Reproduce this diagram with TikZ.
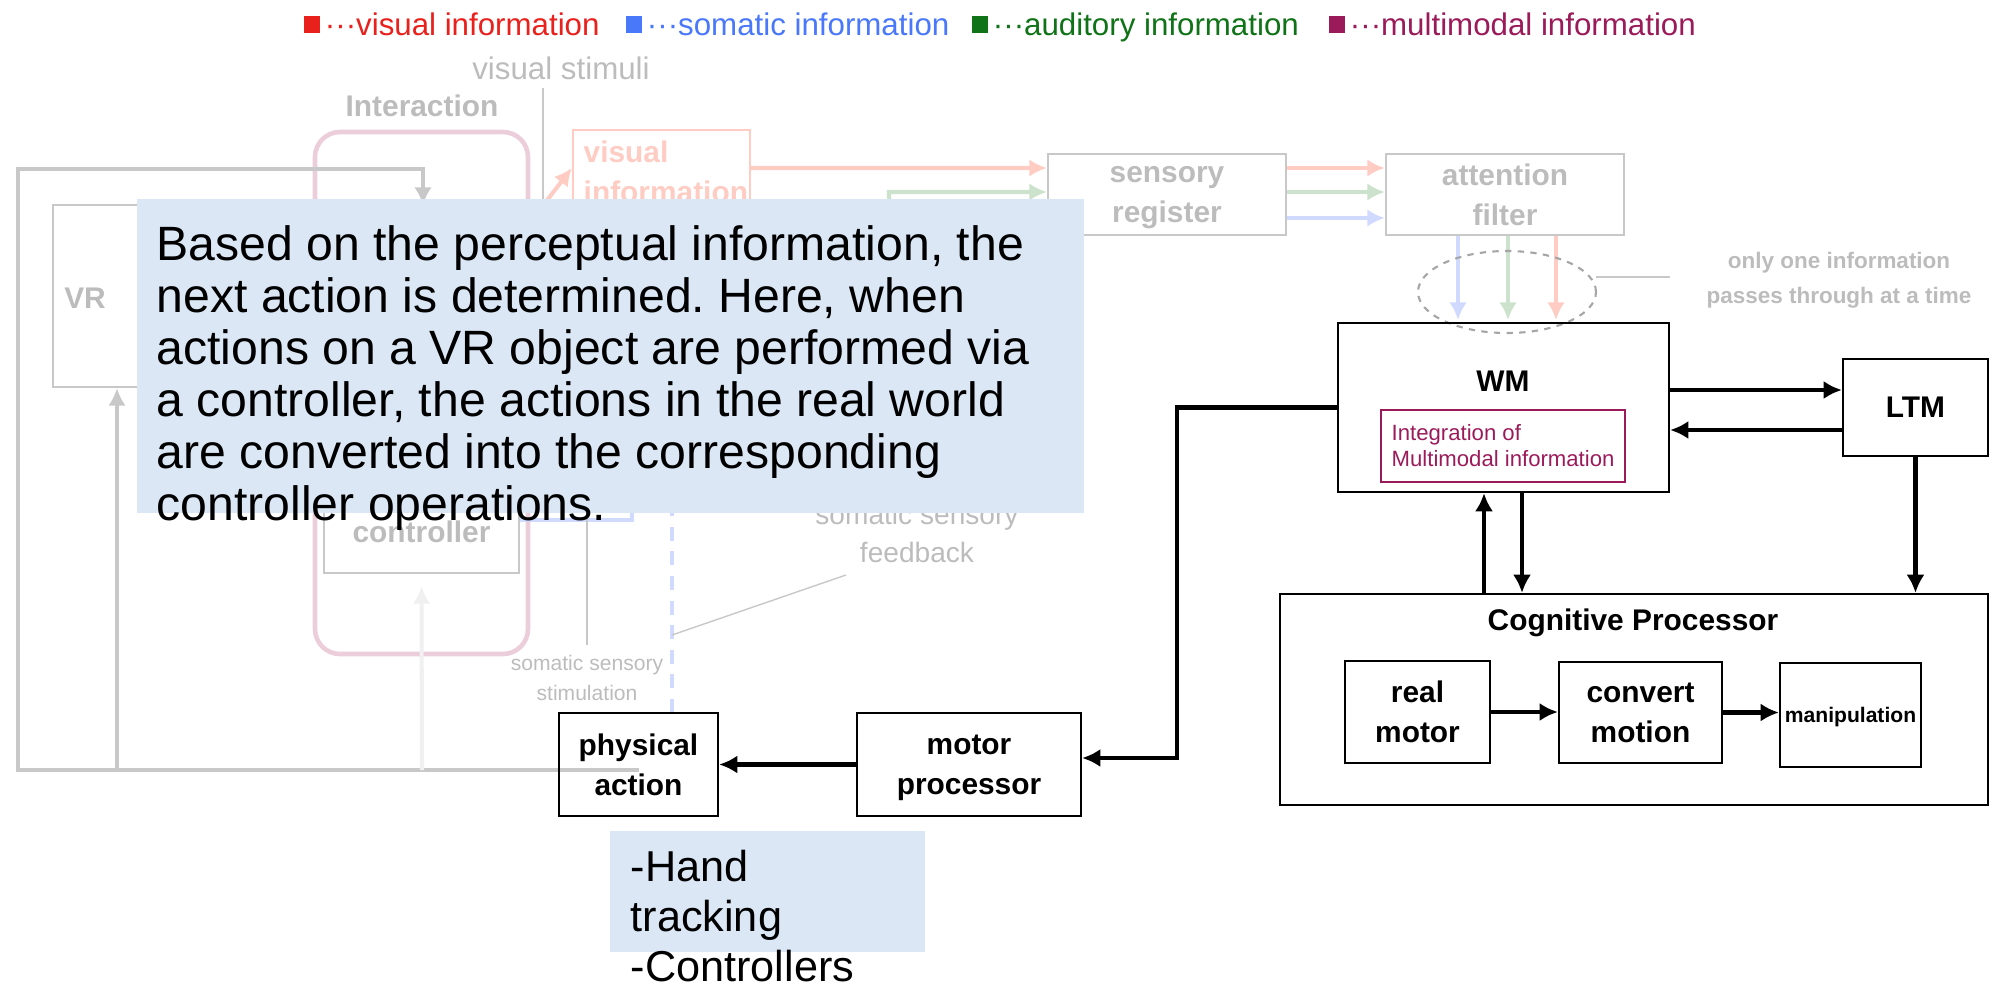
\documentclass[tikz,border=0pt]{standalone}
\usepackage{fontspec}
\setmainfont{Liberation Sans}
\usetikzlibrary{arrows.meta}
\frenchspacing

\definecolor{visred}{RGB}{233,33,28}
\definecolor{somblue}{RGB}{74,120,250}
\definecolor{audgreen}{RGB}{16,115,24}
\definecolor{multipurple}{RGB}{155,27,90}
\definecolor{fadegrey}{RGB}{200,200,200}
\definecolor{fadetext}{RGB}{188,188,188}
\definecolor{fadered}{RGB}{255,204,196}
\definecolor{fadegreen}{RGB}{204,226,204}
\definecolor{fadeblue}{RGB}{208,218,255}
\definecolor{fadepink}{RGB}{236,205,218}
\definecolor{notefill}{RGB}{219,231,245}

\newcommand{\boxfont}{\fontsize{8.5}{11.4}\selectfont\bfseries}
\newcommand{\legendfont}{\fontsize{8.9}{10.8}\selectfont}
\newcommand{\calloutfont}{\fontsize{13.7}{14.8}\selectfont}
\newcommand{\devfont}{\fontsize{12.3}{14.3}\selectfont}
\newcommand{\minifont}{\fontsize{6.3}{7.4}\selectfont}

\begin{document}
\begin{tikzpicture}[
	box/.style={draw, line width=0.65pt, inner sep=0pt, align=center, font=\boxfont, text depth=0pt},
	ghost/.style={box, draw=fadegrey, text=fadetext},
	link/.style={-{Latex[length=5.2pt, width=5.2pt]}, line width=1.15pt},
	ghostlink/.style={-{Latex[length=5pt, width=5pt]}, line width=1.15pt},
	legsq/.style={minimum width=0.16cm, minimum height=0.17cm, inner sep=0pt},
	legtext/.style={anchor=west, inner sep=1pt, font=\legendfont, text height=1.6ex, text depth=0.4ex},
	note/.style={fill=notefill, inner sep=0pt}]
	\useasboundingbox (0, 0) rectangle (20.11, -9.84);
	% Legend:
	\node[legsq, fill=visred] (sqvis) at (3.12, -0.24){};
	\node[legtext, text=visred] (legvis) at (sqvis.east){···visual information};
	\node[legsq, fill=somblue] (sqsom) at (6.34, -0.24){};
	\node[legtext, text=somblue] (legsom) at (sqsom.east){···somatic information};
	\node[legsq, fill=audgreen] (sqaud) at (9.8, -0.24){};
	\node[legtext, text=audgreen] (legaud) at (sqaud.east){···auditory information};
	\node[legsq, fill=multipurple] (sqmul) at (13.37, -0.24){};
	\node[legtext, text=multipurple] (legmul) at (sqmul.east){···multimodal information};

	% Faded part of the model:
	\draw[fadepink, line width=1.3pt, rounded corners=0.25cm] (3.15, -1.32) rectangle (5.28, -6.54);
	\node[text=fadetext, font=\boxfont] (interlabel) at (4.22, -1.06){Interaction};
	\node[text=fadetext, font=\legendfont] (stimlabel) at (5.61, -0.68){visual stimuli};
	\draw[fadegrey, line width=0.4pt] (5.43, -0.88) -- (5.43, -2.6);
	\node[ghost, minimum width=2.47cm, minimum height=1.82cm] (vrbox) at (1.765, -2.96){};
	\node[text=fadetext, font=\boxfont] (vrlabel) at (0.85, -2.98){VR};
	\node[ghost, minimum width=1.95cm, minimum height=0.83cm] (ctrlbox) at (4.215, -5.315){controller};
	\node[draw=fadered, line width=0.65pt, minimum width=1.77cm, minimum height=0.76cm] (visinfo) at (6.615, -1.68){};
	\node[anchor=north west, align=left, inner sep=0pt, text=fadered, font=\boxfont] (visinfolabel) at (5.83, -1.4){visual\\information};
	\node[ghost, minimum width=2.38cm, minimum height=0.81cm] (sensreg) at (11.67, -1.945){sensory\\register};
	\node[ghost, minimum width=2.38cm, minimum height=0.81cm] (attfilter) at (15.05, -1.945){attention\\filter};
	\draw[ghostlink, fadered] (5.38, -2.12) -- (visinfo.west);
	\draw[ghostlink, fadered] (visinfo.east) -- ([yshift=0.265cm]sensreg.west);
	\draw[ghostlink, fadegreen] (8.89, -2.3) -- (8.89, -1.92) -- ([yshift=0.025cm]sensreg.west);
	\draw[ghostlink, fadered] ([yshift=0.265cm]sensreg.east) -- ([yshift=0.265cm]attfilter.west);
	\draw[ghostlink, fadegreen] ([yshift=0.025cm]sensreg.east) -- ([yshift=0.025cm]attfilter.west);
	\draw[ghostlink, fadeblue] ([yshift=-0.235cm]sensreg.east) -- ([yshift=-0.235cm]attfilter.west);
	\draw[ghostlink, fadeblue] ([xshift=-0.47cm]attfilter.south) -- ([xshift=-0.47cm, yshift=0.03cm]attfilter.south |- 0, -3.23);
	\draw[ghostlink, fadegreen] ([xshift=0.03cm]attfilter.south) -- ([xshift=0.03cm, yshift=0.03cm]attfilter.south |- 0, -3.23);
	\draw[ghostlink, fadered] ([xshift=0.51cm]attfilter.south) -- ([xshift=0.51cm, yshift=0.03cm]attfilter.south |- 0, -3.23);
	\draw[black!35, line width=0.6pt, dash pattern={on 1.8pt off 1.8pt}] (15.07, -2.92) ellipse [x radius=0.89, y radius=0.41];
	\draw[fadegrey, line width=0.4pt] (15.96, -2.77) -- (16.7, -2.77);
	\node[align=center, text=fadetext, font=\fontsize{6.4}{10}\selectfont\bfseries] (onlyone) at (18.39, -2.8){only one information\\passes through at a time};
	% grey loop back to the VR side
	\draw[ghostlink, fadegrey] (6.385, -7.7) -| (0.18, -1.69) -| (4.23, -2.05);
	\draw[ghostlink, fadegrey] (1.17, -7.7) -- (vrbox.south -| 1.17, 0);
	\draw[ghostlink, black!6] (4.22, -7.7) -- ([yshift=-0.12cm]ctrlbox.south);
	\draw[fadeblue, line width=1.15pt] ([yshift=0.115cm]ctrlbox.east) -- (6.32, -5.2) -- (6.32, -4.9);
	\draw[fadeblue, line width=1.15pt, dash pattern={on 4pt off 3pt}] (6.72, -7.13) -- (6.72, -4.9);
	\node[align=center, text=fadetext, font=\fontsize{8}{10.8}\selectfont] (fbklabel) at (9.17, -5.33){somatic sensory\\feedback};
	\draw[fadegrey, line width=0.4pt] (8.46, -5.75) -- (6.72, -6.35);
	\node[align=center, text=fadetext, font=\fontsize{6}{8.4}\selectfont] (stimulation) at (5.87, -6.78){somatic sensory\\stimulation};
	\draw[fadegrey, line width=0.4pt] (5.87, -4.0) -- (5.87, -6.45);

	% Explanation on top:
	\node[note, minimum width=9.47cm, minimum height=3.14cm] (callout) at (6.105, -3.56){};
	\node[anchor=north west, align=left, inner sep=0pt, font=\calloutfont] (callouttext) at (1.56, -2.25){Based on the perceptual information, the\\next action is determined. Here, when\\actions on a VR object are performed via\\a controller, the actions in the real world\\are converted into the corresponding\\controller operations.};

	% Paths, nodes and wires:
	\node[box, minimum width=3.31cm, minimum height=1.69cm] (wm) at (15.035, -4.075){};
	\node[font=\boxfont] (wmlabel) at (15.03, -3.81){WM};
	\node[draw=multipurple, line width=0.65pt, minimum width=2.44cm, minimum height=0.72cm] (integ) at (15.03, -4.46){};
	\node[anchor=west, align=left, inner sep=0pt, text=multipurple, font=\minifont] (integlabel) at (13.91, -4.46){Integration of\\Multimodal information};
	\node[box, minimum width=1.45cm, minimum height=0.97cm] (ltm) at (19.155, -4.075){LTM};
	\node[box, minimum width=7.08cm, minimum height=2.11cm] (cog) at (16.34, -6.995){};
	\node[font=\boxfont] (coglabel) at (16.33, -6.23){Cognitive Processor};
	\node[box, minimum width=1.45cm, minimum height=1.02cm] (realmotor) at (14.175, -7.12){real\\motor};
	\node[box, minimum width=1.63cm, minimum height=1.01cm] (convert) at (16.405, -7.125){convert\\motion};
	\node[box, minimum width=1.41cm, minimum height=1.04cm, font=\fontsize{6}{8}\selectfont\bfseries] (manip) at (18.505, -7.15){manipulation};
	\node[box, minimum width=1.59cm, minimum height=1.03cm] (physact) at (6.385, -7.645){physical\\action};
	\node[box, minimum width=2.24cm, minimum height=1.03cm] (motorproc) at (9.69, -7.645){motor\\processor};
	\draw[link] ([yshift=0.175cm]wm.east) -- ([yshift=0.175cm]ltm.west);
	\draw[link] ([yshift=-0.225cm]ltm.west) -- ([yshift=-0.225cm]wm.east);
	\draw[link] (ltm.south) -- (ltm.south |- cog.north);
	\draw[link] ([xshift=-0.195cm]wm.south |- cog.north) -- ([xshift=-0.195cm]wm.south);
	\draw[link] ([xshift=0.185cm]wm.south) -- ([xshift=0.185cm]wm.south |- cog.north);
	\draw[link] (realmotor.east) -- (realmotor.east -| convert.west);
	\draw[link] (convert.east) -- (convert.east -| manip.west);
	\draw[link] (wm.west) -| (11.77, -7.58) -- (11.77, -7.58 -| motorproc.east);
	\draw[link] (motorproc.west) -- (physact.east);

	% Input devices:
	\node[note, minimum width=3.15cm, minimum height=1.21cm] (devnote) at (7.675, -8.915){};
	\node[anchor=north west, align=left, inner sep=0pt, font=\devfont, text depth=0pt] (devtext) at (6.3, -8.49){-Hand\\tracking\\-Controllers};
\end{tikzpicture}
\end{document}
